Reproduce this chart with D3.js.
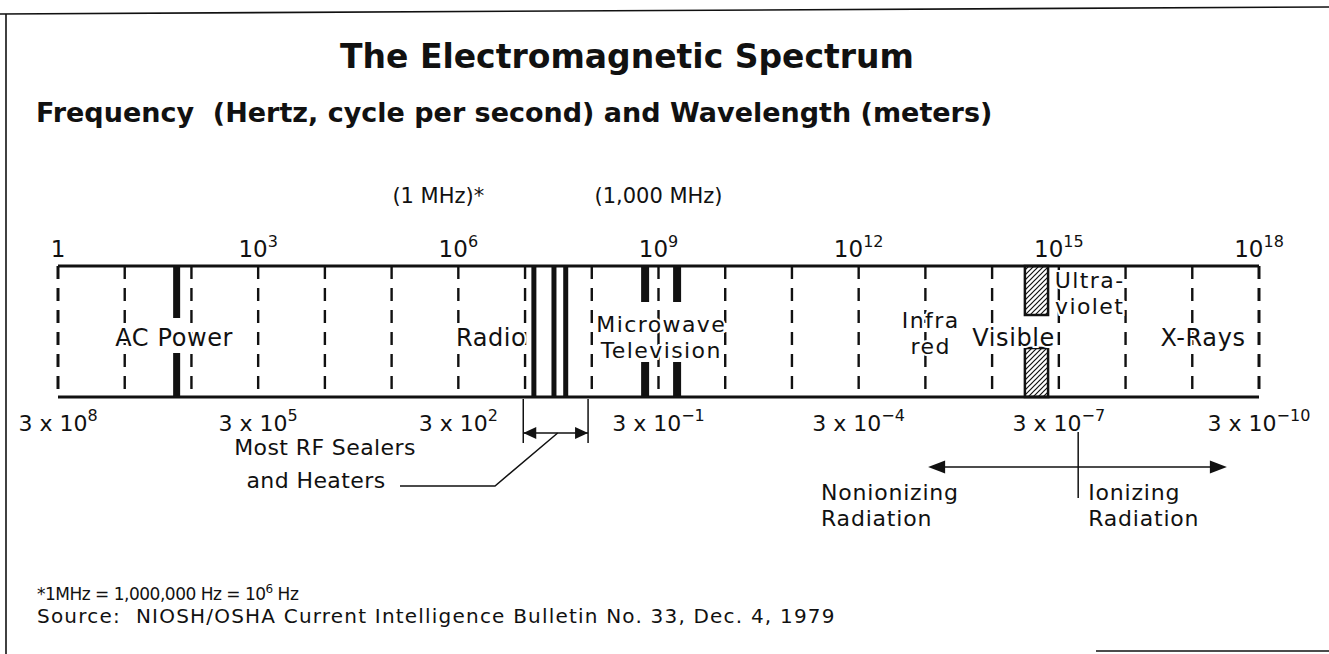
<!DOCTYPE html>
<html>
<head>
<meta charset="utf-8">
<script src="https://cdn.jsdelivr.net/npm/d3@7/dist/d3.min.js"></script>
<style>
  body { margin: 0; background: #fff; }
  svg text { font-family: "DejaVu Sans", "Liberation Sans", sans-serif; fill: #111; }
</style>
</head>
<body>
<svg width="1329" height="654"></svg>
<script>
var svg = d3.select('svg');

// ---- data (frequencies in Hz) ----
var decadeHz = [1e0, 1e1, 1e2, 1e3, 1e4, 1e5, 1e6, 1e7, 1e8, 1e9, 1e10,
                1e11, 1e12, 1e13, 1e14, 1e15, 1e16, 1e17, 1e18];
var freqTickHz = [1e0, 1e3, 1e6, 1e9, 1e12, 1e15, 1e18];
var freqTickBase = ['1', '10', '10', '10', '10', '10', '10'];
var freqTickExp = ['', '3', '6', '9', '12', '15', '18'];
var wavelengthBase = ['3 x 10', '3 x 10', '3 x 10', '3 x 10', '3 x 10', '3 x 10', '3 x 10'];
var wavelengthExp = ['8', '5', '2', '\u22121', '\u22124', '\u22127', '\u221210'];

var acPowerHz = [60];
var rfHeaterHz = [13.56e6, 27.12e6, 40.68e6];
var tvMicrowaveHz = [6.3e8, 1.9e9];
var visibleHz = [3.1e14, 6.9e14];
var rfSealerRangeHz = [9.4e6, 8.8e7];
var ionizingHz = 1.95e15;
var radiationArrowHz = [1.1e13, 3.3e17];

var bandNames = ['AC Power', 'Radio', 'Microwave\nTelevision', 'Infra\nred', 'Visible', 'Ultra-\nviolet', 'X-Rays'];
var bandLabelHz = [55, 3.1e6, 1.1e9, 1.2e13, 2.1e14, 2.9e15, 1.45e17];

var topNotes = ['(1 MHz)*', '(1,000 MHz)'];
var topNoteHz = [1e6, 1e9];

// ---- layout ----
var bandTop = 266, bandBottom = 397;
var x = d3.scaleLog().domain([1, 1e18]).range([58, 1259]);

var defs = svg.append('defs');
defs.append('pattern')
    .attr('id', 'hatch')
    .attr('patternUnits', 'userSpaceOnUse')
    .attr('width', 5).attr('height', 5)
  .append('path')
    .attr('d', 'M-1,1L1,-1M0,5L5,0M4,6L6,4')
    .attr('stroke', '#111').attr('stroke-width', 1.2);

// page frame (scanned sheet edges)
svg.append('line').attr('x1', 0).attr('y1', 14).attr('x2', 1329).attr('y2', 7)
    .attr('stroke', '#111').attr('stroke-width', 1.6);
svg.append('line').attr('x1', 6).attr('y1', 14).attr('x2', 6).attr('y2', 654)
    .attr('stroke', '#111').attr('stroke-width', 1.6);
svg.append('line').attr('x1', 1096).attr('y1', 651).attr('x2', 1329).attr('y2', 651)
    .attr('stroke', '#111').attr('stroke-width', 1.6);

// titles
svg.append('text').attr('x', 627).attr('y', 68)
    .attr('text-anchor', 'middle')
    .style('font-size', '33px').style('font-weight', 'bold')
    .text('The Electromagnetic Spectrum');
svg.append('text').attr('x', 36).attr('y', 122)
    .style('font-size', '27px').style('font-weight', 'bold')
    .attr('xml:space', 'preserve')
    .text('Frequency  (Hertz, cycle per second) and Wavelength (meters)');

var chartG = svg.append('g');

// dashed decade lines
chartG.selectAll('.decade')
    .data(decadeHz)
  .enter().append('line')
    .attr('class', 'decade')
    .attr('x1', function (d) { return x(d); })
    .attr('x2', function (d) { return x(d); })
    .attr('y1', bandTop).attr('y2', bandBottom)
    .attr('stroke', '#111')
    .attr('stroke-width', function (d, i) { return (i === 0 || i === decadeHz.length - 1) ? 3 : 2.4; })
    .attr('stroke-dasharray', '13,9');

// top and bottom rails
[bandTop, bandBottom].forEach(function (yy) {
  chartG.append('line')
      .attr('x1', x(1)).attr('x2', x(1e18))
      .attr('y1', yy).attr('y2', yy)
      .attr('stroke', '#111').attr('stroke-width', 3);
});

// emitter bars: AC power and TV/microwave are split around their labels
function splitBars(data, w, gapTop, gapBottom) {
  data.forEach(function (hz) {
    chartG.append('rect')
        .attr('x', x(hz) - w / 2).attr('width', w)
        .attr('y', bandTop).attr('height', gapTop - bandTop)
        .attr('fill', '#111');
    chartG.append('rect')
        .attr('x', x(hz) - w / 2).attr('width', w)
        .attr('y', gapBottom).attr('height', bandBottom - gapBottom)
        .attr('fill', '#111');
  });
}
splitBars(acPowerHz, 7, 318, 353);
splitBars(tvMicrowaveHz, 8, 302, 362);

chartG.selectAll('.rf')
    .data(rfHeaterHz)
  .enter().append('rect')
    .attr('class', 'rf')
    .attr('x', function (d) { return x(d) - 2.5; })
    .attr('width', 5)
    .attr('y', bandTop).attr('height', bandBottom - bandTop)
    .attr('fill', '#111');

// visible light hatch
[[bandTop, 315], [348, bandBottom]].forEach(function (seg) {
  chartG.append('rect')
      .attr('x', x(visibleHz[0])).attr('width', x(visibleHz[1]) - x(visibleHz[0]))
      .attr('y', seg[0]).attr('height', seg[1] - seg[0])
      .attr('fill', 'url(#hatch)')
      .attr('stroke', '#111').attr('stroke-width', 2.5);
});

// band labels, one text per line (white halo so the dashes break around them)
var labelTop = {'Ultra-\nviolet': 288, 'Infra\nred': 328};
var bandLines = [];
bandNames.forEach(function (name, i) {
  var lines = name.split('\n');
  var y0 = labelTop[name] || (lines.length > 1 ? 332 : 346);
  lines.forEach(function (ln, j) {
    bandLines.push({text: ln, hz: bandLabelHz[i], y: y0 + j * 26, multi: lines.length > 1});
  });
});
chartG.selectAll('.band-label')
    .data(bandLines)
  .enter().append('text')
    .attr('class', 'band-label')
    .attr('text-anchor', 'middle')
    .attr('x', function (d) { return x(d.hz); })
    .attr('y', function (d) { return d.y; })
    .style('font-size', function (d) { return d.multi ? '22px' : '24px'; })
    .style('letter-spacing', function (d) { return d.multi ? '1.4px' : '0.6px'; })
    .style('paint-order', 'stroke')
    .style('stroke', '#fff').style('stroke-width', 4)
    .text(function (d) { return d.text; });

// frequency and wavelength tick labels
function supLabel(g, xs, y, bases, exps, size, supSize) {
  g.selectAll(null)
      .data(xs)
    .enter().append('text')
      .attr('x', function (d) { return d; })
      .attr('y', y)
      .attr('text-anchor', 'middle')
      .style('font-size', size + 'px')
      .each(function (d, i) {
        var t = d3.select(this);
        t.append('tspan').text(bases[i]);
        if (exps[i]) {
          t.append('tspan').attr('dy', -size * 0.45).style('font-size', supSize + 'px').text(exps[i]);
        }
      });
}
supLabel(chartG, freqTickHz.map(function (d) { return x(d); }), 257, freqTickBase, freqTickExp, 23, 16);
supLabel(chartG, freqTickHz.map(function (d) { return x(d); }), 431, wavelengthBase, wavelengthExp, 22, 16);

// MHz notes
chartG.selectAll('.note')
    .data(topNotes)
  .enter().append('text')
    .attr('class', 'note')
    .attr('x', function (d, i) { return x(topNoteHz[i]) + (i === 0 ? -20 : 0); })
    .attr('y', 203)
    .attr('text-anchor', 'middle')
    .style('font-size', '21px')
    .text(function (d) { return d; });

// RF sealer bracket and leader
var annG = svg.append('g').attr('stroke', '#111').attr('stroke-width', 1.5).attr('fill', 'none');
var r0 = x(rfSealerRangeHz[0]), r1 = x(rfSealerRangeHz[1]);
annG.append('line').attr('x1', r0).attr('x2', r0).attr('y1', bandBottom + 2).attr('y2', 443);
annG.append('line').attr('x1', r1).attr('x2', r1).attr('y1', bandBottom + 2).attr('y2', 443);
annG.append('line').attr('x1', r0).attr('x2', r1).attr('y1', 433).attr('y2', 433);
function arrowHead(tipX, tipY, dir, len, half) {
  svg.append('path')
      .attr('d', 'M' + tipX + ',' + tipY + 'L' + (tipX - dir * len) + ',' + (tipY - half) +
                 'L' + (tipX - dir * len) + ',' + (tipY + half) + 'Z')
      .attr('fill', '#111');
}
arrowHead(r0, 433, -1, 13, 6);
arrowHead(r1, 433, 1, 13, 6);
var leadX = (r0 + r1) / 2 + 2;
annG.append('polyline')
    .attr('points', [[leadX, 433], [495, 486], [400, 486]].join(' '));

var rfText = svg.append('text').attr('text-anchor', 'middle')
    .style('font-size', '22px').style('letter-spacing', '0.4px');
rfText.append('tspan').attr('x', 325).attr('y', 455).text('Most RF Sealers');
rfText.append('tspan').attr('x', 316).attr('y', 488).text('and Heaters');

// ionizing / nonionizing arrow
var a0 = x(radiationArrowHz[0]), a1 = x(radiationArrowHz[1]), ib = x(ionizingHz);
annG.append('line').attr('x1', a0 + 10).attr('x2', a1 - 10).attr('y1', 467).attr('y2', 467);
annG.append('line').attr('x1', ib).attr('x2', ib).attr('y1', 432).attr('y2', 498);
arrowHead(a0, 467, -1, 17, 6.5);
arrowHead(a1, 467, 1, 17, 6.5);

var nonion = svg.append('text').style('font-size', '22px').style('letter-spacing', '0.8px');
nonion.append('tspan').attr('x', 821).attr('y', 500).text('Nonionizing');
nonion.append('tspan').attr('x', 821).attr('y', 526).text('Radiation');
var ion = svg.append('text').style('font-size', '22px').style('letter-spacing', '0.8px');
ion.append('tspan').attr('x', ib + 10).attr('y', 500).text('Ionizing');
ion.append('tspan').attr('x', ib + 10).attr('y', 526).text('Radiation');

// footnotes
var foot = svg.append('text').style('font-size', '17px').style('letter-spacing', '-0.5px');
foot.append('tspan').attr('x', 37).attr('y', 600).text('*1MHz = 1,000,000 Hz = 10');
foot.append('tspan').attr('dy', -7).style('font-size', '12px').text('6');
foot.append('tspan').attr('dy', 7).text(' Hz');
svg.append('text').attr('x', 37).attr('y', 623)
    .style('font-size', '20px').style('letter-spacing', '1.2px')
    .attr('xml:space', 'preserve')
    .text('Source:  NIOSH/OSHA Current Intelligence Bulletin No. 33, Dec. 4, 1979');
</script>
</body>
</html>
